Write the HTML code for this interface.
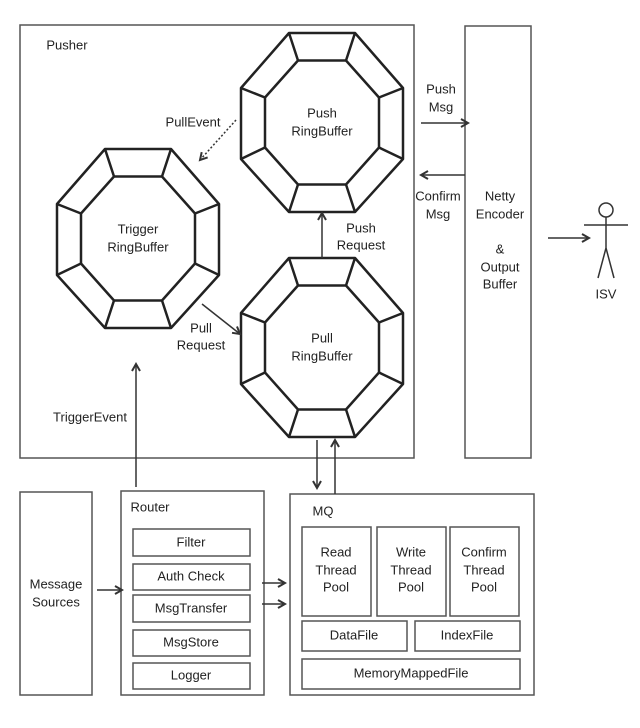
<!DOCTYPE html>
<html><head><meta charset="utf-8"><style>
html,body{margin:0;padding:0;background:#fff;}
svg text{font-family:"Liberation Sans",sans-serif;font-size:13px;fill:#222;text-anchor:middle;dominant-baseline:middle;}
</style></head><body>
<svg width="640" height="723" viewBox="0 0 640 723" xmlns="http://www.w3.org/2000/svg">
<defs>
<marker id="a" markerWidth="10" markerHeight="10" refX="8" refY="5" orient="auto" markerUnits="userSpaceOnUse">
<path d="M1,1 L8,5 L1,9" fill="none" stroke="#333" stroke-width="2"/></marker>
<g id="oct" fill="none" stroke="#222" stroke-width="2.5" stroke-linejoin="round">
<polygon points="-33,-89.5 33,-89.5 81,-34.5 81,36.5 33,89.5 -33,89.5 -81,36.5 -81,-34.5" fill="#fff"/>
<polygon points="-24,-62 24,-62 57,-25 57,25 24,62 -24,62 -57,25 -57,-25"/>
<path d="M-33,-89.5L-24,-62M33,-89.5L24,-62M81,-34.5L57,-25M81,36.5L57,25M33,89.5L24,62M-33,89.5L-24,62M-81,36.5L-57,25M-81,-34.5L-57,-25"/>
</g>
</defs>
<g fill="none" stroke="#555" stroke-width="1.5">
<rect x="20" y="25" width="394" height="433"/>
<rect x="465" y="26" width="66" height="432"/>
<rect x="20" y="492" width="72" height="203"/>
<rect x="121" y="491" width="143" height="204"/>
<rect x="133" y="529" width="117" height="27"/>
<rect x="133" y="564" width="117" height="26"/>
<rect x="133" y="595" width="117" height="27"/>
<rect x="133" y="630" width="117" height="26"/>
<rect x="133" y="663" width="117" height="26"/>
<rect x="290" y="494" width="244" height="201"/>
<rect x="302" y="527" width="69" height="89"/>
<rect x="377" y="527" width="69" height="89"/>
<rect x="450" y="527" width="69" height="89"/>
<rect x="302" y="621" width="105" height="30"/>
<rect x="415" y="621" width="105" height="30"/>
<rect x="302" y="659" width="218" height="30"/>
</g>
<use href="#oct" x="322" y="122.5"/>
<use href="#oct" x="138" y="238.5"/>
<use href="#oct" x="322" y="347.5"/>
<g stroke="#333" stroke-width="1.5" fill="none">
<line x1="236" y1="120" x2="200" y2="160" stroke-dasharray="2,2" marker-end="url(#a)"/>
<line x1="421" y1="123" x2="468" y2="123" marker-end="url(#a)"/>
<line x1="465" y1="175" x2="421" y2="175" marker-end="url(#a)"/>
<line x1="322" y1="258" x2="322" y2="213" marker-end="url(#a)"/>
<line x1="202" y1="304" x2="240" y2="334" marker-end="url(#a)"/>
<line x1="136" y1="487" x2="136" y2="364" marker-end="url(#a)"/>
<line x1="317" y1="440" x2="317" y2="488" marker-end="url(#a)"/>
<line x1="335" y1="494" x2="335" y2="440" marker-end="url(#a)"/>
<line x1="548" y1="238" x2="589" y2="238" marker-end="url(#a)"/>
<line x1="97" y1="590" x2="122" y2="590" marker-end="url(#a)"/>
<line x1="262" y1="583" x2="285" y2="583" marker-end="url(#a)"/>
<line x1="262" y1="604" x2="285" y2="604" marker-end="url(#a)"/>
<circle cx="606" cy="210" r="7"/>
<path d="M606,217V248M584,225H628M606,248L598,278M606,248L614,278"/>
</g>
<text x="67" y="46" >Pusher</text>
<text x="322" y="114">Push</text><text x="322" y="132">RingBuffer</text>
<text x="138" y="230">Trigger</text><text x="138" y="248">RingBuffer</text>
<text x="322" y="339">Pull</text><text x="322" y="357">RingBuffer</text>
<text x="193" y="123">PullEvent</text>
<text x="441" y="90">Push</text><text x="441" y="108">Msg</text>
<text x="438" y="197">Confirm</text><text x="438" y="215">Msg</text>
<text x="361" y="229">Push</text><text x="361" y="246">Request</text>
<text x="201" y="329">Pull</text><text x="201" y="346">Request</text>
<text x="90" y="418">TriggerEvent</text>
<text x="500" y="197">Netty</text><text x="500" y="215">Encoder</text>
<text x="500" y="250">&amp;</text><text x="500" y="268">Output</text><text x="500" y="285">Buffer</text>
<text x="606" y="295">ISV</text>
<text x="56" y="585">Message</text><text x="56" y="603">Sources</text>
<text x="150" y="508">Router</text>
<text x="191" y="543">Filter</text>
<text x="191" y="577">Auth Check</text>
<text x="191" y="609">MsgTransfer</text>
<text x="191" y="643">MsgStore</text>
<text x="191" y="676">Logger</text>
<text x="323" y="512">MQ</text>
<text x="336" y="553">Read</text><text x="336" y="571">Thread</text><text x="336" y="588">Pool</text>
<text x="411" y="553">Write</text><text x="411" y="571">Thread</text><text x="411" y="588">Pool</text>
<text x="484" y="553">Confirm</text><text x="484" y="571">Thread</text><text x="484" y="588">Pool</text>
<text x="354" y="636">DataFile</text>
<text x="467" y="636">IndexFile</text>
<text x="411" y="674">MemoryMappedFile</text>
</svg>
</body></html>
